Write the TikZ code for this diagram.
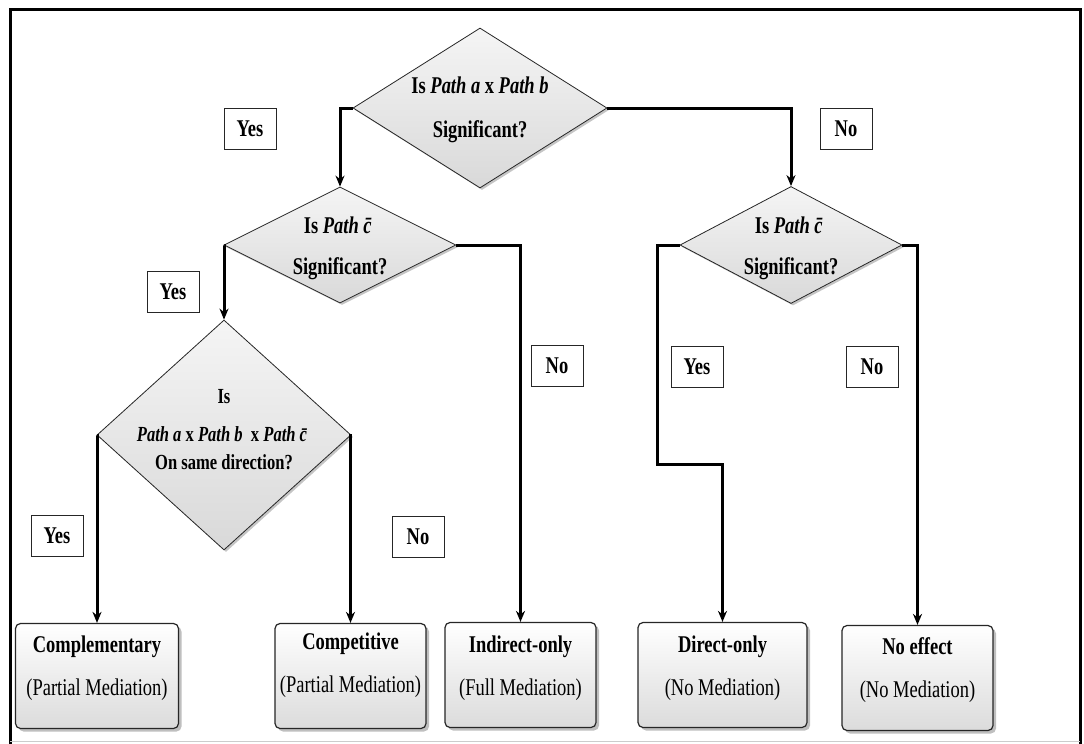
\documentclass[tikz,border=0pt]{standalone}
\usepackage{fontspec}
\setmainfont[FakeStretch=0.77]{Liberation Serif}
\usetikzlibrary{shapes.geometric,shadows,arrows.meta}

\newcommand{\cbar}{\textit{c\symbol{"0304}}}

\tikzset{
  question/.style={diamond, draw=black!85, line width=0.8pt, inner sep=0pt,
    top color=gray!8, bottom color=gray!30,
    drop shadow={shadow xshift=2pt, shadow yshift=-2pt, opacity=0.45}},
  qtext/.style={align=center, inner sep=0pt, font=\fontsize{24}{28}\selectfont\bfseries},
  outcome/.style={rectangle, rounded corners=5pt, draw=black!85, line width=1.2pt,
    top color=white, bottom color=gray!28, minimum width=151pt, minimum height=105pt,
    inner sep=0pt,
    drop shadow={shadow xshift=3pt, shadow yshift=-3pt, opacity=0.5}},
  otext/.style={align=center, inner sep=0pt, font=\fontsize{24}{28}\selectfont},
  answer/.style={rectangle, draw=black!85, line width=0.8pt, fill=white,
    minimum width=52pt, minimum height=41pt, inner sep=0pt,
    font=\fontsize{24}{28}\selectfont\bfseries},
  flow/.style={line width=3pt, -{Stealth[length=11pt,width=9pt]}},
}

\begin{document}
\begin{tikzpicture}[x=1pt, y=-1pt]
\useasboundingbox (0,0) rectangle (1084,744);
\fill[white] (0,0) rectangle (1084,744);

% outer frame
\draw[line width=3pt] (10,744) -- (10,9) -- (1080,9) -- (1080,744);
\draw[gray!40, line width=1pt] (10,741) -- (1080,741);

% decision diamonds
\node[question, minimum width=254pt, minimum height=160pt] (d1) at (480,108) {};
\node[question, minimum width=232pt, minimum height=116pt] (d2) at (340,245) {};
\node[question, minimum width=222pt, minimum height=117pt] (d3) at (791,245) {};
\node[question, minimum width=254pt, minimum height=230pt] (d4) at (224,435) {};

\node[qtext] (q1) at (480,110) {Is \textit{Path a} x \textit{Path b}\\[16pt]Significant?};
\node[qtext] (q2) at (340,248) {Is \textit{Path} \cbar\\[13pt]Significant?};
\node[qtext] (q3) at (791,248) {Is \textit{Path} \cbar\\[13pt]Significant?};
\node[qtext, font=\fontsize{21.5}{25}\selectfont\bfseries] (q4) at (224,430)
  {Is\\[13pt]\textit{Path a} x \textit{Path b} \ x \textit{Path} \cbar\\[3pt]On same direction?};

% outcome boxes
\node[outcome, minimum width=163pt] (comp) at (97,676) {};
\node[outcome] (compet) at (350.5,676) {};
\node[outcome] (indir) at (520.5,675) {};
\node[outcome, minimum width=169pt] (direct) at (722.5,675) {};
\node[outcome] (noeff) at (917.5,678) {};

\node[otext] (tcomp) at (97,668) {\textbf{Complementary}\\[15pt](Partial Mediation)};
\node[otext] (tcompet) at (350.5,665) {\textbf{Competitive}\\[15pt](Partial Mediation)};
\node[otext] (tindir) at (520.5,668) {\textbf{Indirect-only}\\[15pt](Full Mediation)};
\node[otext] (tdirect) at (722.5,668) {\textbf{Direct-only}\\[15pt](No Mediation)};
\node[otext] (tnoeff) at (917.5,670) {\textbf{No effect}\\[15pt](No Mediation)};

% connectors
\coordinate (bend) at (657,464);
\draw[flow] (d1.west) -| (d2.north);
\draw[flow] (d1.east) -| (d3.north);
\draw[flow] (d2.west) -| (d4.north);
\draw[flow] (d2.east) -| (indir.north);
\draw[flow] (d4.west) -| (comp.north);
\draw[flow] (d4.east) -| (compet.north);
\draw[flow] (d3.west) -| (bend) -| (direct.north);
\draw[flow] (d3.east) -| (noeff.north);

% answer labels
\node[answer] (a1) at (250,129) {Yes};
\node[answer] (a2) at (846,129) {No};
\node[answer] (a3) at (173,292) {Yes};
\node[answer] (a4) at (557,366) {No};
\node[answer] (a5) at (697,367) {Yes};
\node[answer] (a6) at (872,367) {No};
\node[answer] (a7) at (57,536) {Yes};
\node[answer] (a8) at (418,537) {No};
\end{tikzpicture}
\end{document}
